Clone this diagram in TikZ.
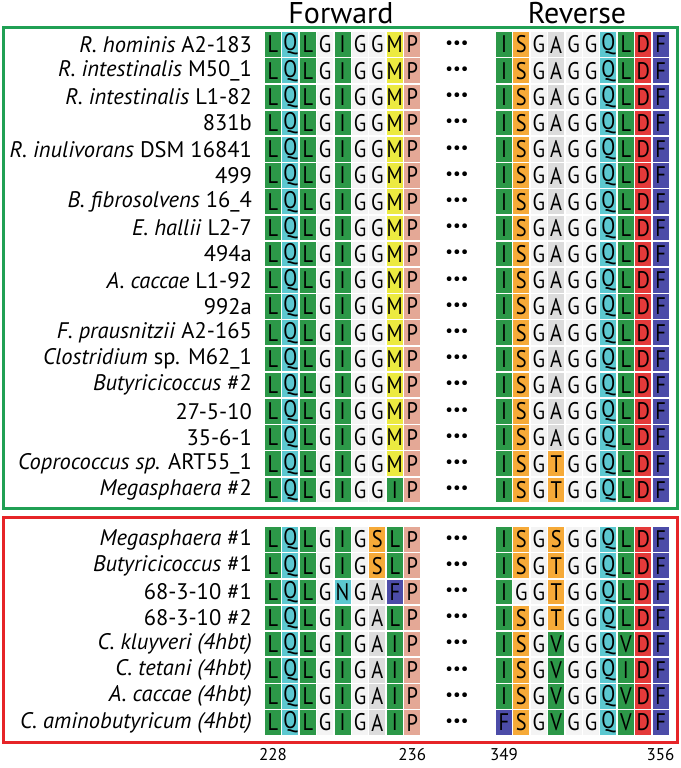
\documentclass[tikz,border=0pt]{standalone}
\usepackage{fontspec}
\setmainfont{PT Sans}
\newfontfamily\resfont[FakeStretch=0.85]{PT Sans}
\usetikzlibrary{positioning}

% Farben der Aminosaeuren
\definecolor{resL}{RGB}{44,152,72}
\colorlet{resI}{resL}
\colorlet{resV}{resL}
\definecolor{resQ}{RGB}{92,200,208}
\colorlet{resN}{resQ}
\definecolor{resG}{RGB}{244,244,244}
\definecolor{resA}{RGB}{220,220,220}
\definecolor{resM}{RGB}{236,234,64}
\definecolor{resP}{RGB}{228,168,150}
\definecolor{resS}{RGB}{246,170,56}
\colorlet{resT}{resS}
\definecolor{resD}{RGB}{228,58,58}
\definecolor{resF}{RGB}{76,76,168}
\definecolor{boxgreen}{RGB}{32,160,84}
\definecolor{boxred}{RGB}{230,36,40}

% eine Zeile: Nummer, Stamm, vorwaerts, rueckwaerts
\newcommand{\seqrow}[4]{%
  \pgfmathsetmacro{\rowy}{#1<19 ? 44.5+26.2*(#1-1) : 539.5+26.15*(#1-19)}
  \node[strain] (sp-#1) at (252,\rowy) {#2};
  \foreach \aa [count=\c] in {#3}
    \node[res=\aa] (fw-#1-\c) at (273+17.4*\c-17.4,\rowy) {\aa};
  \node[gapdots] (dt-#1) at (457,\rowy) {•••};
  \foreach \aa [count=\c] in {#4}
    \node[res=\aa] (rv-#1-\c) at (504+17.4*\c-17.4,\rowy) {\aa};
}

\begin{document}
\begin{tikzpicture}[
                x=1pt, y=-1pt,
                font=\fontsize{22.5}{22.5}\selectfont,
                cell/.style={rectangle, minimum width=16pt, minimum height=24.5pt, inner sep=0pt, font=\resfont\fontsize{24}{24}\selectfont},
                res/.style={cell, fill=res#1},
                strain/.style={anchor=east, inner sep=0pt},
                gapdots/.style={inner sep=0pt, font=\fontsize{17}{17}\selectfont},
                head/.style={inner sep=0pt, font=\fontsize{30}{30}\selectfont},
                posnum/.style={inner sep=0pt, font=\fontsize{17}{17}\selectfont},
                frame/.style={line width=3pt}
            ]
                \useasboundingbox (0,0) rectangle (680,768);

                % --- KOPF ---
                \node[head] (fwd-head) at (341,13) {Forward};
                \node[head] (rev-head) at (577,13) {Reverse};

                % --- RAHMEN ---
                \draw[frame, boxgreen] (3,28) rectangle (677,508);
                \draw[frame, boxred] (3,517) rectangle (677,742);

                % --- OBERE GRUPPE ---
                \seqrow{1}{\textit{R. hominis} A2-183}{L,Q,L,G,I,G,G,M,P}{I,S,G,A,G,G,Q,L,D,F}
                \seqrow{2}{\textit{R. intestinalis} M50\_1}{L,Q,L,G,I,G,G,M,P}{I,S,G,A,G,G,Q,L,D,F}
                \seqrow{3}{\textit{R. intestinalis} L1-82}{L,Q,L,G,I,G,G,M,P}{I,S,G,A,G,G,Q,L,D,F}
                \seqrow{4}{831b}{L,Q,L,G,I,G,G,M,P}{I,S,G,A,G,G,Q,L,D,F}
                \seqrow{5}{\textit{R. inulivorans} DSM 16841}{L,Q,L,G,I,G,G,M,P}{I,S,G,A,G,G,Q,L,D,F}
                \seqrow{6}{499}{L,Q,L,G,I,G,G,M,P}{I,S,G,A,G,G,Q,L,D,F}
                \seqrow{7}{\textit{B. fibrosolvens} 16\_4}{L,Q,L,G,I,G,G,M,P}{I,S,G,A,G,G,Q,L,D,F}
                \seqrow{8}{\textit{E. hallii} L2-7}{L,Q,L,G,I,G,G,M,P}{I,S,G,A,G,G,Q,L,D,F}
                \seqrow{9}{494a}{L,Q,L,G,I,G,G,M,P}{I,S,G,A,G,G,Q,L,D,F}
                \seqrow{10}{\textit{A. caccae} L1-92}{L,Q,L,G,I,G,G,M,P}{I,S,G,A,G,G,Q,L,D,F}
                \seqrow{11}{992a}{L,Q,L,G,I,G,G,M,P}{I,S,G,A,G,G,Q,L,D,F}
                \seqrow{12}{\textit{F. prausnitzii} A2-165}{L,Q,L,G,I,G,G,M,P}{I,S,G,A,G,G,Q,L,D,F}
                \seqrow{13}{\textit{Clostridium} sp. M62\_1}{L,Q,L,G,I,G,G,M,P}{I,S,G,A,G,G,Q,L,D,F}
                \seqrow{14}{\textit{Butyricicoccus} \#2}{L,Q,L,G,I,G,G,M,P}{I,S,G,A,G,G,Q,L,D,F}
                \seqrow{15}{27-5-10}{L,Q,L,G,I,G,G,M,P}{I,S,G,A,G,G,Q,L,D,F}
                \seqrow{16}{35-6-1}{L,Q,L,G,I,G,G,M,P}{I,S,G,A,G,G,Q,L,D,F}
                \seqrow{17}{\textit{Coprococcus sp.} ART55\_1}{L,Q,L,G,I,G,G,M,P}{I,S,G,T,G,G,Q,L,D,F}
                \seqrow{18}{\textit{Megasphaera} \#2}{L,Q,L,G,I,G,G,I,P}{I,S,G,T,G,G,Q,L,D,F}

                % --- UNTERE GRUPPE ---
                \seqrow{19}{\textit{Megasphaera} \#1}{L,Q,L,G,I,G,S,L,P}{I,S,G,S,G,G,Q,L,D,F}
                \seqrow{20}{\textit{Butyricicoccus} \#1}{L,Q,L,G,I,G,S,L,P}{I,S,G,T,G,G,Q,L,D,F}
                \seqrow{21}{68-3-10 \#1}{L,Q,L,G,N,G,A,F,P}{I,G,G,T,G,G,Q,L,D,F}
                \seqrow{22}{68-3-10 \#2}{L,Q,L,G,I,G,A,L,P}{I,S,G,T,G,G,Q,L,D,F}
                \seqrow{23}{\textit{C. kluyveri (4hbt)}}{L,Q,L,G,I,G,A,I,P}{I,S,G,V,G,G,Q,V,D,F}
                \seqrow{24}{\textit{C. tetani (4hbt)}}{L,Q,L,G,I,G,A,I,P}{I,S,G,V,G,G,Q,I,D,F}
                \seqrow{25}{\textit{A. caccae (4hbt)}}{L,Q,L,G,I,G,A,I,P}{I,S,G,V,G,G,Q,V,D,F}
                \seqrow{26}{\textit{C. aminobutyricum (4hbt)}}{L,Q,L,G,I,G,A,I,P}{F,S,G,V,G,G,Q,V,D,F}

                % --- POSITIONEN ---
                \node[posnum, below=13pt of fw-26-1] (p228) {228};
                \node[posnum, below=13pt of fw-26-9] (p236) {236};
                \node[posnum, below=13pt of rv-26-1] (p349) {349};
                \node[posnum, below=13pt of rv-26-10] (p356) {356};

            \end{tikzpicture}
\end{document}
